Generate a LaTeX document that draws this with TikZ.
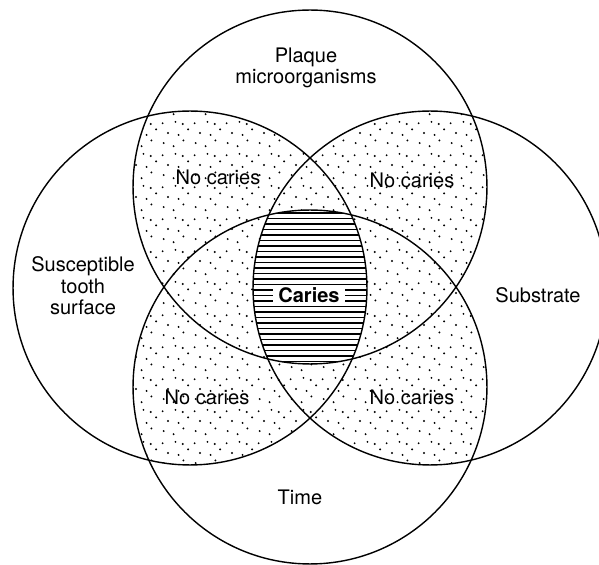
\documentclass[tikz,border=0pt]{standalone}
\usepackage{fontspec}
\setmainfont{TeX Gyre Heros}
\usetikzlibrary{patterns.meta}

\tikzdeclarepattern{
  name=stipple,
  type=uncolored,
  bottom left={(0pt,0pt)},
  top right={(18pt,18pt)},
  tile size={(18pt,18pt)},
  code={
    \tikzset{x=1pt,y=1pt}
    \fill (2.1,3.4) circle (0.6);
    \fill (7.8,1.6) circle (0.6);
    \fill (13.5,4.9) circle (0.6);
    \fill (4.6,9.2) circle (0.6);
    \fill (10.7,8.1) circle (0.6);
    \fill (16.2,11.3) circle (0.6);
    \fill (1.5,14.8) circle (0.6);
    \fill (8.9,15.6) circle (0.6);
    \fill (13.1,14.4) circle (0.6);
  }
}

\begin{document}
\begin{tikzpicture}[x=0.02cm, y=0.02cm,
    ring/.style={draw, line width=0.8pt},
    lbl/.style={font=\fontsize{11.4}{12.2}\selectfont, align=center, inner sep=1pt},
    hatch/.style={line width=0.8pt}
]
    \useasboundingbox (0,0) rectangle (599,565);
    \def\rad{3.54cm}
    \coordinate (plaque) at (310,378);
    \coordinate (tooth) at (190,277);
    \coordinate (substrate) at (430,277);
    \coordinate (time) at (310,178);

    % stipple over all circles, then clear the parts inside one circle only
    \fill[pattern=stipple] (plaque) circle (\rad) (tooth) circle (\rad)
        (substrate) circle (\rad) (time) circle (\rad);
    \foreach \c/\p/\q/\r in {plaque/tooth/substrate/time, tooth/plaque/substrate/time,
                             substrate/plaque/tooth/time, time/plaque/tooth/substrate} {
        \begin{scope}[even odd rule]
            \clip (\c) circle (\rad);
            \clip (-50,-50) rectangle (650,615) (\p) circle (\rad);
            \clip (-50,-50) rectangle (650,615) (\q) circle (\rad);
            \clip (-50,-50) rectangle (650,615) (\r) circle (\rad);
            \fill[white] (\c) circle (\rad);
        \end{scope}
    }

    % hatched core
    \begin{scope}
        \clip (plaque) circle (\rad);
        \clip (tooth) circle (\rad);
        \clip (substrate) circle (\rad);
        \clip (time) circle (\rad);
        \fill[white] (tooth) circle (\rad);
        \foreach \y in {198,203.5,...,360}
            \draw[hatch] (240,\y) -- (380,\y);
    \end{scope}

    \foreach \c in {plaque, tooth, substrate, time}
        \draw[ring] (\c) circle (\rad);

    \node[lbl] (lplaque) at (306,497) {Plaque\\microorganisms};
    \node[lbl] (ltooth) at (83,279) {Susceptible\\tooth\\surface};
    \node[lbl] (lsubstrate) at (538,270) {Substrate};
    \node[lbl] (ltime) at (300,68) {Time};
    \node[lbl] (nc1) at (218,388) {No caries};
    \node[lbl] (nc2) at (412,385) {No caries};
    \node[lbl] (nc3) at (207,168) {No caries};
    \node[lbl] (nc4) at (412,168) {No caries};
    \node[lbl, fill=white, inner xsep=3pt, inner ysep=0.5pt, font=\fontsize{11.4}{12.2}\selectfont\bfseries] (caries) at (309,270) {Caries};
\end{tikzpicture}
\end{document}
